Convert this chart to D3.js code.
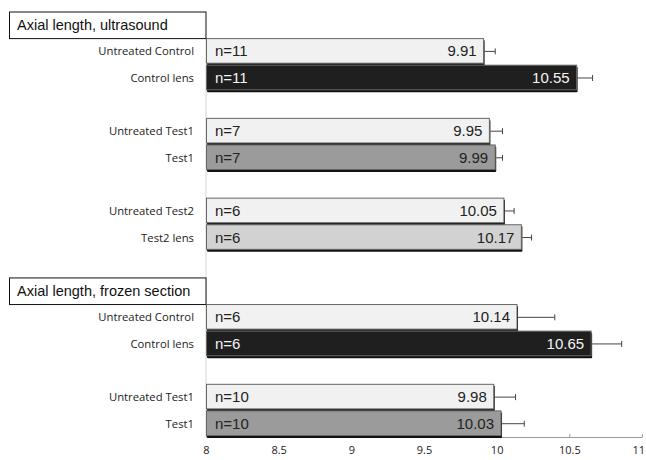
<!DOCTYPE html>
<html>
<head>
<meta charset="utf-8">
<script src="https://cdn.jsdelivr.net/npm/d3@7"></script>
<style>
  body { margin: 0; background: #fff; }
  svg { display: block; }
</style>
</head>
<body>
<svg class="svg-axial"></svg>
<script>
// data
const sections = ["Axial length, ultrasound", "Axial length, frozen section"]
const sectionOf = [0, 0, 0, 0, 0, 0, 1, 1, 1, 1]
const pairOf = [0, 0, 1, 1, 2, 2, 0, 0, 1, 1]
const labels = ["Untreated Control", "Control lens", "Untreated Test1", "Test1", "Untreated Test2", "Test2 lens",
                "Untreated Control", "Control lens", "Untreated Test1", "Test1"]
const means = [9.91, 10.55, 9.95, 9.99, 10.05, 10.17, 10.14, 10.65, 9.98, 10.03]
const errs = [0.08, 0.11, 0.09, 0.05, 0.07, 0.07, 0.26, 0.21, 0.15, 0.16]
const counts = [11, 11, 7, 7, 6, 6, 6, 6, 10, 10]
const groups = ["untreated", "control", "untreated", "test1", "untreated", "test2",
                "untreated", "control", "untreated", "test1"]
const xTicks = [8, 8.5, 9, 9.5, 10, 10.5, 11]

const fillOf = { untreated: "#f1f1f1", control: "#1f1f1f", test1: "#9b9b9b", test2: "#d2d2d2" }
const textOf = { untreated: "#222", control: "#f4f4f4", test1: "#222", test2: "#222" }

// build row order: title, pair, gap, pair ...
let rows = []
let bars = []
for (let i = 0; i < labels.length; i++) {
    let s = sectionOf[i]
    if (i == 0 || sectionOf[i - 1] != s) {
        if (i > 0) rows.push("gap" + i)
        rows.push("title" + s)
    } else if (pairOf[i] != pairOf[i - 1]) {
        rows.push("gap" + i)
    }
    rows.push("bar" + i)
    bars.push({ key: "bar" + i, label: labels[i], mean: means[i], err: errs[i], n: counts[i], group: groups[i] })
}

var width = 646
var height = 460
var svg = d3.select('.svg-axial')
    .attr('width', width)
    .attr('height', height)

var x_scale = d3.scaleLinear()
    .domain([8, 11])
    .range([206, 642])
var y_scale = d3.scaleBand()
    .domain(rows)
    .range([11.5, 437])
    .padding(0)
var bw = y_scale.bandwidth()

// vertical axis line
svg.append('line')
    .attr('x1', x_scale(8)).attr('x2', x_scale(8))
    .attr('y1', y_scale("bar0") - 1).attr('y2', 437)
    .attr('stroke', '#d4d4d4')
    .attr('stroke-width', 1)

// x axis
var x_axis = d3.axisBottom(x_scale)
    .tickValues(xTicks)
    .tickFormat(d => d)
    .tickSizeInner(-3)
    .tickSizeOuter(0)
    .tickPadding(9)
var gx = svg.append('g')
    .attr('transform', 'translate(0,437)')
    .call(x_axis)
gx.select('.domain').attr('stroke', '#9a9a9a')
gx.selectAll('.tick line').attr('stroke', '#9a9a9a')
gx.selectAll('.tick text')
    .attr('font-family', 'Open Sans, sans-serif')
    .attr('font-size', 11)
    .attr('fill', '#222')
// last label pulled in so it stays on the page
gx.selectAll('.tick text')
    .filter(d => d == 11)
    .attr('text-anchor', 'start')
    .attr('dx', -10)

// section title boxes
sections.forEach((t, s) => {
    let y0 = y_scale("title" + s)
    svg.append('rect')
        .attr('x', 9.5).attr('y', y0 + 0.5)
        .attr('width', x_scale(8) - 9.5).attr('height', bw)
        .attr('fill', '#fff')
        .attr('stroke', '#111')
        .attr('stroke-width', 1)
    svg.append('text')
        .attr('x', 17)
        .attr('y', y0 + bw / 2 + 5)
        .attr('font-family', 'Liberation Sans, Arial, sans-serif')
        .attr('font-size', 14.5)
        .attr('fill', '#111')
        .text(t)
})

var g = svg.append('g').attr('class', 'bars')
var row = g.selectAll('g.row')
    .data(bars)
    .join('g')
    .attr('class', 'row')
    .attr('transform', d => 'translate(0,' + y_scale(d.key) + ')')

// shadow under bar
row.append('rect')
    .attr('x', x_scale(8) + 1)
    .attr('y', 2)
    .attr('width', d => x_scale(d.mean) - x_scale(8))
    .attr('height', bw - 1)
    .attr('fill', '#111')
    .attr('rx', 1)

row.append('rect')
    .attr('x', x_scale(8) + 0.5)
    .attr('y', 0.5)
    .attr('width', d => x_scale(d.mean) - x_scale(8) - 0.5)
    .attr('height', bw - 2)
    .attr('fill', d => fillOf[d.group])
    .attr('stroke', '#666')
    .attr('stroke-width', 1)

// error bars (right side only)
row.append('line')
    .attr('x1', d => x_scale(d.mean) + 1)
    .attr('x2', d => x_scale(d.mean + d.err))
    .attr('y1', bw / 2).attr('y2', bw / 2)
    .attr('stroke', '#444')
row.append('line')
    .attr('x1', d => x_scale(d.mean + d.err))
    .attr('x2', d => x_scale(d.mean + d.err))
    .attr('y1', bw / 2 - 3).attr('y2', bw / 2 + 3)
    .attr('stroke', '#444')

// n labels
row.append('text')
    .attr('x', x_scale(8) + 9)
    .attr('y', bw / 2 + 5)
    .attr('font-family', 'Liberation Sans, Arial, sans-serif')
    .attr('font-size', 15)
    .attr('fill', d => textOf[d.group])
    .text(d => 'n=' + d.n)

// values
row.append('text')
    .attr('x', d => x_scale(d.mean) - 7)
    .attr('y', bw / 2 + 5)
    .attr('text-anchor', 'end')
    .attr('font-family', 'Liberation Sans, Arial, sans-serif')
    .attr('font-size', 15)
    .attr('fill', d => textOf[d.group])
    .text(d => d.mean.toFixed(2))

// category labels
row.append('text')
    .attr('x', 194)
    .attr('y', bw / 2 + 4)
    .attr('text-anchor', 'end')
    .attr('font-family', 'Open Sans, sans-serif')
    .attr('font-size', 11.3)
    .attr('fill', '#222')
    .text(d => d.label)
</script>
</body>
</html>
